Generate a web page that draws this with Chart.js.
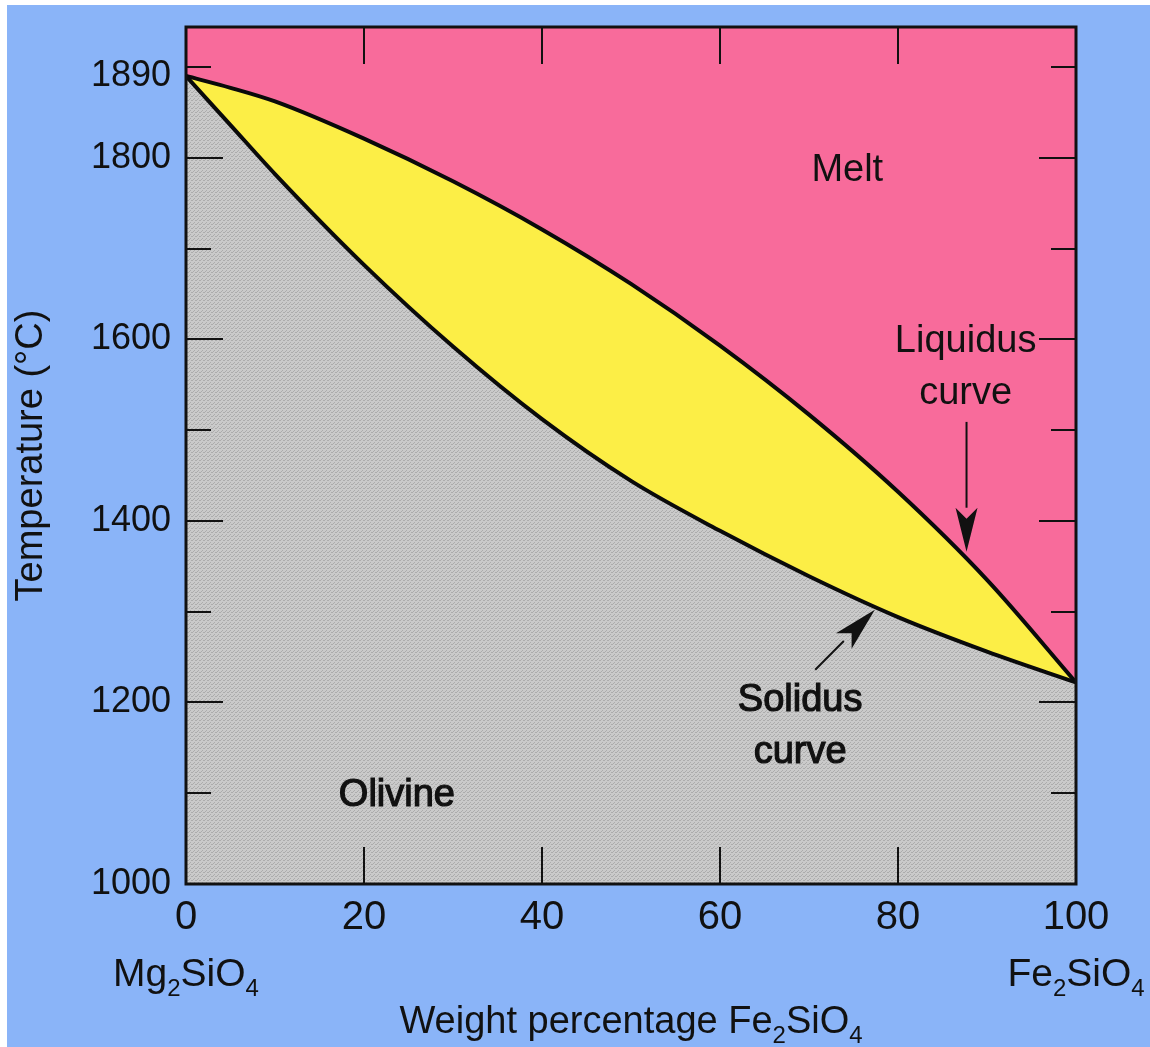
<!DOCTYPE html>
<html>
<head>
<meta charset="utf-8">
<script src="https://cdn.jsdelivr.net/npm/chart.js@4.4.1/dist/chart.umd.min.js"></script>
<style>
  html, body { margin: 0; padding: 0; background: #fff; }
  #bg { position: absolute; left: 7px; top: 5px; width: 1143px; height: 1042px; background: #8ab4f8; }
  #chart { position: absolute; left: 0; top: 0; }
</style>
</head>
<body>
<div id="bg"></div>
<canvas id="chart" width="1150" height="1047"></canvas>
<script>
'use strict';

// weight percentage Fe2SiO4 and the two phase boundaries (deg C)
let composition = [0, 5, 10, 20, 30, 40, 50, 60, 70, 80, 90, 100];
let liquidusTemp = [1890, 1877, 1862, 1821, 1774, 1721, 1661, 1593, 1517, 1432, 1335, 1222];
let solidusTemp = [1890, 1836, 1782, 1682, 1592, 1512, 1444, 1389, 1339, 1294, 1256, 1222];
let tempTicks = [1000, 1200, 1400, 1600, 1800, 1890];
let compTicks = [0, 20, 40, 60, 80, 100];

const FONT = "'Liberation Sans', Arial, Helvetica, sans-serif";

let canvasElem = document.getElementById('chart');

// halftone-ish grey for the olivine field
function greyGrain() {
  let c = document.createElement('canvas');
  c.width = 4; c.height = 4;
  let g = c.getContext('2d');
  g.fillStyle = '#cacaca';
  g.fillRect(0, 0, 4, 4);
  g.fillStyle = '#acacac';
  g.fillRect(0, 0, 1, 1);
  g.fillRect(2, 2, 1, 1);
  g.fillRect(3, 0, 1, 1);
  g.fillRect(1, 3, 1, 1);
  return g.createPattern(c, 'repeat');
}

// draws text with subscript parts, centred on cx
function richText(ctx, parts, cx, baseline, size) {
  let subSize = Math.round(size * 0.62);
  let widths = parts.map(p => {
    ctx.font = (p[1] ? subSize : size) + 'px ' + FONT;
    return ctx.measureText(p[0]).width;
  });
  let total = widths.reduce((a, b) => a + b, 0);
  let px = cx - total / 2;
  ctx.textAlign = 'left';
  ctx.textBaseline = 'alphabetic';
  parts.forEach((p, i) => {
    ctx.font = (p[1] ? subSize : size) + 'px ' + FONT;
    ctx.fillText(p[0], px, baseline + (p[1] ? size * 0.25 : 0));
    px += widths[i];
  });
}

function arrow(ctx, x0, y0, x1, y1, headLen, headHalf) {
  let ang = Math.atan2(y1 - y0, x1 - x0);
  let bx = x1 - headLen * Math.cos(ang);
  let by = y1 - headLen * Math.sin(ang);
  ctx.beginPath();
  ctx.moveTo(x0, y0);
  ctx.lineTo(bx, by);
  ctx.stroke();
  ctx.beginPath();
  ctx.moveTo(x1, y1);
  ctx.lineTo(bx + headHalf * Math.sin(ang), by - headHalf * Math.cos(ang));
  ctx.lineTo(bx + headLen * 0.25 * Math.cos(ang), by + headLen * 0.25 * Math.sin(ang));
  ctx.lineTo(bx - headHalf * Math.sin(ang), by + headHalf * Math.cos(ang));
  ctx.closePath();
  ctx.fill();
}

const diagramPlugin = {
  id: 'diagram',
  beforeDraw(chart) {
    const { ctx, chartArea: a } = chart;
    ctx.save();
    ctx.fillStyle = '#f86b9b';
    ctx.fillRect(a.left, a.top, a.right - a.left, a.bottom - a.top);
    ctx.restore();
  },
  afterDraw(chart) {
    const { ctx, chartArea: a, scales: { x, y } } = chart;
    ctx.save();
    ctx.strokeStyle = '#111';
    ctx.fillStyle = '#111';

    // inward ticks
    ctx.lineWidth = 2;
    const seg = (x0, y0, x1, y1) => {
      ctx.beginPath(); ctx.moveTo(x0, y0); ctx.lineTo(x1, y1); ctx.stroke();
    };
    for (let t = 1100; t <= 1900; t += 100) {
      let py = Math.round(y.getPixelForValue(t));
      let len = t % 200 === 0 ? 37 : 25;
      seg(a.left, py, a.left + len, py);
      seg(a.right, py, a.right - len, py);
    }
    for (let c = 20; c <= 80; c += 20) {
      let px = Math.round(x.getPixelForValue(c));
      seg(px, a.bottom, px, a.bottom - 37);
      seg(px, a.top, px, a.top + 37);
    }

    // frame
    ctx.lineWidth = 3;
    ctx.strokeRect(a.left, a.top, a.right - a.left, a.bottom - a.top);

    // field labels
    const label = (text, cx, ct, heavy) => {
      ctx.font = '38px ' + FONT;
      ctx.textAlign = 'center';
      ctx.textBaseline = 'middle';
      let px = x.getPixelForValue(cx), py = y.getPixelForValue(ct);
      ctx.fillText(text, px, py);
      if (heavy) {
        ctx.lineWidth = 1.2;
        ctx.strokeText(text, px, py);
      }
    };
    label('Melt', 74.3, 1786);
    label('Liquidus', 87.6, 1598);
    label('curve', 87.6, 1540);
    label('Solidus', 69, 1202, true);
    label('curve', 69, 1145, true);
    label('Olivine', 23.7, 1098, true);

    // pointers to the curves
    ctx.lineWidth = 2;
    arrow(ctx, x.getPixelForValue(87.7), y.getPixelForValue(1509),
      x.getPixelForValue(87.7), y.getPixelForValue(1366), 44, 11);
    arrow(ctx, x.getPixelForValue(70.7), y.getPixelForValue(1236),
      x.getPixelForValue(77.4), y.getPixelForValue(1302), 44, 11);

    // end-member labels and x title
    richText(ctx, [['Mg', 0], ['2', 1], ['SiO', 0], ['4', 1]], x.getPixelForValue(0), 986, 39);
    richText(ctx, [['Fe', 0], ['2', 1], ['SiO', 0], ['4', 1]], x.getPixelForValue(100), 986, 39);
    richText(ctx, [['Weight percentage Fe', 0], ['2', 1], ['SiO', 0], ['4', 1]],
      (a.left + a.right) / 2, 1033, 38);
    ctx.restore();
  }
};

function renderChart() {
  const data = {
    datasets: [
      {
        label: 'Solidus',
        data: composition.map((c, i) => ({ x: c, y: solidusTemp[i] })),
        borderColor: '#0a0a0a',
        borderWidth: 4,
        backgroundColor: greyGrain(),
        fill: 'start',
        pointRadius: 0,
        cubicInterpolationMode: 'monotone'
      },
      {
        label: 'Liquidus',
        data: composition.map((c, i) => ({ x: c, y: liquidusTemp[i] })),
        borderColor: '#0a0a0a',
        borderWidth: 4,
        backgroundColor: '#fcee46',
        fill: 'start',
        pointRadius: 0,
        cubicInterpolationMode: 'monotone'
      }
    ]
  };
  let config = {
    type: 'line',
    data: data,
    plugins: [diagramPlugin],
    options: {
      responsive: false,
      animation: false,
      layout: { padding: { left: 0, top: 27, right: 74, bottom: 0 } },
      plugins: { legend: { display: false }, tooltip: { enabled: false } },
      scales: {
        x: {
          type: 'linear',
          min: 0,
          max: 100,
          afterBuildTicks: s => { s.ticks = compTicks.map(v => ({ value: v })); },
          afterFit: s => { s.height = 163; s.paddingLeft = 0; s.paddingRight = 0; },
          grid: { display: false, drawTicks: false },
          border: { display: false },
          ticks: {
            color: '#111', padding: 10, maxRotation: 0,
            font: { family: FONT, size: 40 },
            callback: v => String(v)
          }
        },
        y: {
          min: 1000,
          max: 1944,
          afterBuildTicks: s => { s.ticks = tempTicks.map(v => ({ value: v })); },
          afterFit: s => { s.width = 186; s.paddingTop = 0; s.paddingBottom = 0; },
          grid: { display: false, drawTicks: false },
          border: { display: false },
          ticks: {
            color: '#111', padding: 15,
            font: { family: FONT, size: 36 },
            callback: v => String(v)
          },
          title: {
            display: true,
            text: 'Temperature (\u00B0C)',
            color: '#111',
            padding: { top: 9, bottom: 0 },
            font: { family: FONT, size: 38 }
          }
        }
      }
    }
  };
  let myChart = new Chart(canvasElem, config);
}

renderChart();
</script>
</body>
</html>
